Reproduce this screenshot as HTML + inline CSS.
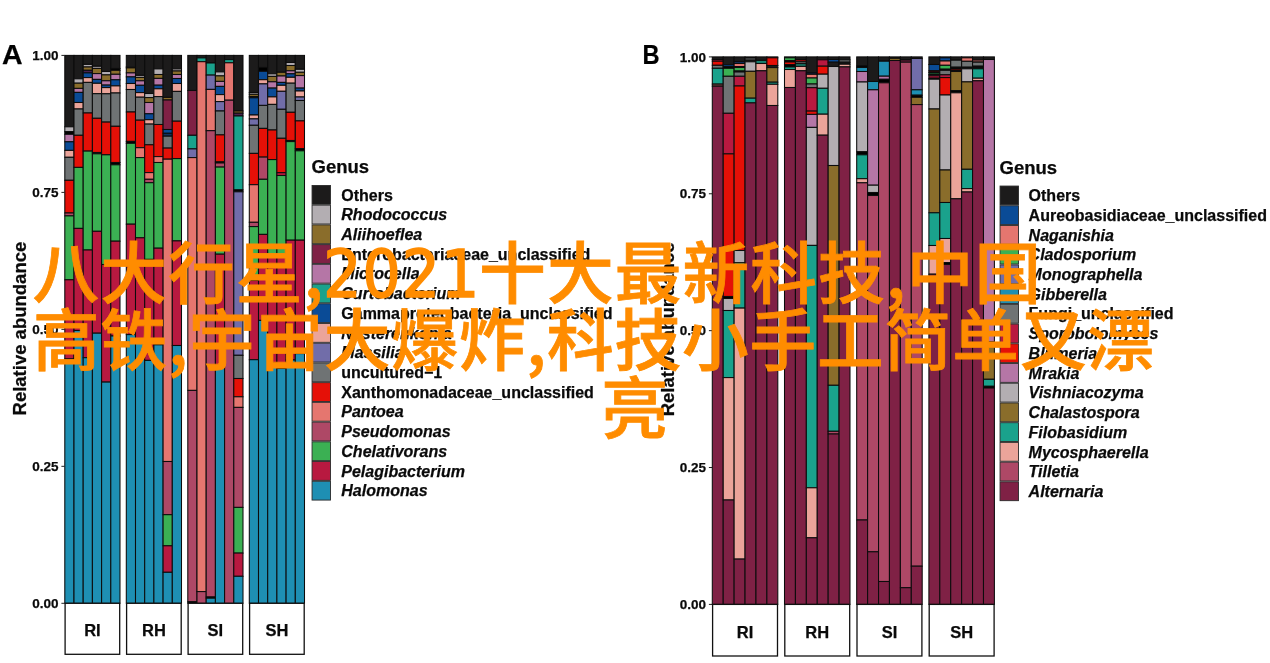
<!DOCTYPE html>
<html lang="zh-CN">
<head>
<meta charset="utf-8">
<title>八大行星,2021十大最新科技,中国高铁,宇宙大爆炸,科技小手工简单又漂亮</title>
<style>
html,body{margin:0;padding:0;background:#fff;}
body{width:1270px;height:663px;position:relative;overflow:hidden;font-family:"Liberation Sans","Noto Sans CJK SC",sans-serif;}
.fig{position:absolute;left:0;top:0;width:1270px;height:663px;filter:blur(0.4px);}
.cap{position:absolute;left:0;top:0;width:1270px;height:663px;color:#ff8c00;font-family:"Noto Sans CJK SC","Liberation Sans",sans-serif;font-weight:500;font-size:66.7px;line-height:68px;-webkit-text-stroke:0.8px #ff8c00;white-space:nowrap;}
.cap span{position:absolute;display:block;}
.cap .dg{display:inline-block;width:154.6px;text-align:center;font-weight:400;font-family:"DejaVu Sans Condensed","Noto Sans CJK SC","Liberation Sans",sans-serif;letter-spacing:1.1px;position:relative;top:-1px;left:-1.4px;-webkit-text-stroke:1.6px #ff8c00;}
</style>
</head>
<body>
<div class="fig">
<svg width="1270" height="663" viewBox="0 0 1270 663" style="position:absolute;left:0;top:0" font-family="'Liberation Sans', sans-serif" fill="#0a0a0a">
<rect x="0" y="0" width="1270" height="663" fill="#fff"/>
<style>text{stroke:#0a0a0a;stroke-width:0.25px;stroke-linejoin:round}</style>
<text x="2" y="64.2" font-size="28.5" font-weight="bold" fill="#000">A</text>
<text transform="translate(642.6,63.8) scale(0.83,1)" font-size="28.5" font-weight="bold" fill="#000">B</text>
<text transform="translate(26.2,328.6) rotate(-90)" text-anchor="middle" font-size="18.5" font-weight="bold">Relative abundance</text>
<text transform="translate(674.2,329.4) rotate(-90)" text-anchor="middle" font-size="18.5" font-weight="bold">Relative abundance</text>
<line x1="61.40" y1="55.40" x2="64.60" y2="55.40" stroke="#222" stroke-width="1"/>
<text x="58.60" y="60.10" text-anchor="end" font-size="13.5" font-weight="bold">1.00</text>
<line x1="61.40" y1="192.38" x2="64.60" y2="192.38" stroke="#222" stroke-width="1"/>
<text x="58.60" y="197.07" text-anchor="end" font-size="13.5" font-weight="bold">0.75</text>
<line x1="61.40" y1="329.35" x2="64.60" y2="329.35" stroke="#222" stroke-width="1"/>
<text x="58.60" y="334.05" text-anchor="end" font-size="13.5" font-weight="bold">0.50</text>
<line x1="61.40" y1="466.32" x2="64.60" y2="466.32" stroke="#222" stroke-width="1"/>
<text x="58.60" y="471.02" text-anchor="end" font-size="13.5" font-weight="bold">0.25</text>
<line x1="61.40" y1="603.30" x2="64.60" y2="603.30" stroke="#222" stroke-width="1"/>
<text x="58.60" y="608.00" text-anchor="end" font-size="13.5" font-weight="bold">0.00</text>
<line x1="708.90" y1="56.90" x2="712.10" y2="56.90" stroke="#222" stroke-width="1"/>
<text x="706.10" y="61.60" text-anchor="end" font-size="13.5" font-weight="bold">1.00</text>
<line x1="708.90" y1="193.78" x2="712.10" y2="193.78" stroke="#222" stroke-width="1"/>
<text x="706.10" y="198.47" text-anchor="end" font-size="13.5" font-weight="bold">0.75</text>
<line x1="708.90" y1="330.65" x2="712.10" y2="330.65" stroke="#222" stroke-width="1"/>
<text x="706.10" y="335.35" text-anchor="end" font-size="13.5" font-weight="bold">0.50</text>
<line x1="708.90" y1="467.52" x2="712.10" y2="467.52" stroke="#222" stroke-width="1"/>
<text x="706.10" y="472.22" text-anchor="end" font-size="13.5" font-weight="bold">0.25</text>
<line x1="708.90" y1="604.40" x2="712.10" y2="604.40" stroke="#222" stroke-width="1"/>
<text x="706.10" y="609.10" text-anchor="end" font-size="13.5" font-weight="bold">0.00</text>
<g stroke="#0c0c0c" stroke-width="1.05">
<rect x="64.80" y="55.40" width="9.20" height="71.40" fill="#1c1b1b"/>
<rect x="64.80" y="126.80" width="9.20" height="4.90" fill="#b3aeb2"/>
<rect x="64.80" y="131.70" width="9.20" height="2.60" fill="#000000"/>
<rect x="64.80" y="134.30" width="9.20" height="7.50" fill="#b576a6"/>
<rect x="64.80" y="141.80" width="9.20" height="8.60" fill="#0a4b96"/>
<rect x="64.80" y="150.40" width="9.20" height="6.90" fill="#eba49a"/>
<rect x="64.80" y="157.30" width="9.20" height="23.00" fill="#6f7374"/>
<rect x="64.80" y="180.30" width="9.20" height="32.70" fill="#e51007"/>
<rect x="64.80" y="213.00" width="9.20" height="2.90" fill="#ae4866"/>
<rect x="64.80" y="215.90" width="9.20" height="63.90" fill="#3bb053"/>
<rect x="64.80" y="279.80" width="9.20" height="79.20" fill="#b81940"/>
<rect x="64.80" y="359.00" width="9.20" height="244.30" fill="#1e8fb3"/>
<rect x="74.00" y="55.40" width="9.20" height="23.40" fill="#1c1b1b"/>
<rect x="74.00" y="78.80" width="9.20" height="4.40" fill="#b3aeb2"/>
<rect x="74.00" y="83.20" width="9.20" height="5.20" fill="#8a6d2b"/>
<rect x="74.00" y="88.40" width="9.20" height="4.00" fill="#b576a6"/>
<rect x="74.00" y="92.40" width="9.20" height="10.10" fill="#0a4b96"/>
<rect x="74.00" y="102.50" width="9.20" height="6.50" fill="#eba49a"/>
<rect x="74.00" y="109.00" width="9.20" height="26.30" fill="#6f7374"/>
<rect x="74.00" y="135.30" width="9.20" height="32.10" fill="#e51007"/>
<rect x="74.00" y="167.40" width="9.20" height="61.00" fill="#3bb053"/>
<rect x="74.00" y="228.40" width="9.20" height="102.10" fill="#b81940"/>
<rect x="74.00" y="330.50" width="9.20" height="272.80" fill="#1e8fb3"/>
<rect x="83.20" y="55.40" width="9.20" height="9.00" fill="#1c1b1b"/>
<rect x="83.20" y="64.40" width="9.20" height="2.60" fill="#b3aeb2"/>
<rect x="83.20" y="67.00" width="9.20" height="3.30" fill="#8a6d2b"/>
<rect x="83.20" y="70.30" width="9.20" height="2.60" fill="#4a2050"/>
<rect x="83.20" y="72.90" width="9.20" height="4.70" fill="#0a4b96"/>
<rect x="83.20" y="77.60" width="9.20" height="4.80" fill="#eba49a"/>
<rect x="83.20" y="82.40" width="9.20" height="30.60" fill="#6f7374"/>
<rect x="83.20" y="113.00" width="9.20" height="38.10" fill="#e51007"/>
<rect x="83.20" y="151.10" width="9.20" height="98.90" fill="#3bb053"/>
<rect x="83.20" y="250.00" width="9.20" height="107.70" fill="#b81940"/>
<rect x="83.20" y="357.70" width="9.20" height="245.60" fill="#1e8fb3"/>
<rect x="92.40" y="55.40" width="9.20" height="10.90" fill="#1c1b1b"/>
<rect x="92.40" y="66.30" width="9.20" height="2.10" fill="#b3aeb2"/>
<rect x="92.40" y="68.40" width="9.20" height="5.20" fill="#8a6d2b"/>
<rect x="92.40" y="73.60" width="9.20" height="5.80" fill="#b576a6"/>
<rect x="92.40" y="79.40" width="9.20" height="3.90" fill="#0a4b96"/>
<rect x="92.40" y="83.30" width="9.20" height="10.40" fill="#eba49a"/>
<rect x="92.40" y="93.70" width="9.20" height="24.60" fill="#6f7374"/>
<rect x="92.40" y="118.30" width="9.20" height="34.20" fill="#e51007"/>
<rect x="92.40" y="152.50" width="9.20" height="1.30" fill="#000000"/>
<rect x="92.40" y="153.80" width="9.20" height="77.50" fill="#3bb053"/>
<rect x="92.40" y="231.30" width="9.20" height="101.90" fill="#b81940"/>
<rect x="92.40" y="333.20" width="9.20" height="270.10" fill="#1e8fb3"/>
<rect x="101.60" y="55.40" width="9.20" height="16.10" fill="#1c1b1b"/>
<rect x="101.60" y="71.50" width="9.20" height="3.40" fill="#b3aeb2"/>
<rect x="101.60" y="74.90" width="9.20" height="5.90" fill="#8a6d2b"/>
<rect x="101.60" y="80.80" width="9.20" height="4.30" fill="#b576a6"/>
<rect x="101.60" y="85.10" width="9.20" height="2.50" fill="#0a4b96"/>
<rect x="101.60" y="87.60" width="9.20" height="6.20" fill="#eba49a"/>
<rect x="101.60" y="93.80" width="9.20" height="28.30" fill="#6f7374"/>
<rect x="101.60" y="122.10" width="9.20" height="32.70" fill="#e51007"/>
<rect x="101.60" y="154.80" width="9.20" height="109.70" fill="#3bb053"/>
<rect x="101.60" y="264.50" width="9.20" height="117.60" fill="#b81940"/>
<rect x="101.60" y="382.10" width="9.20" height="221.20" fill="#1e8fb3"/>
<rect x="110.80" y="55.40" width="9.20" height="13.10" fill="#1c1b1b"/>
<rect x="110.80" y="68.50" width="9.20" height="1.80" fill="#000000"/>
<rect x="110.80" y="70.30" width="9.20" height="4.00" fill="#8a6d2b"/>
<rect x="110.80" y="74.30" width="9.20" height="5.50" fill="#b576a6"/>
<rect x="110.80" y="79.80" width="9.20" height="6.10" fill="#0a4b96"/>
<rect x="110.80" y="85.90" width="9.20" height="7.10" fill="#eba49a"/>
<rect x="110.80" y="93.00" width="9.20" height="33.30" fill="#6f7374"/>
<rect x="110.80" y="126.30" width="9.20" height="36.20" fill="#e51007"/>
<rect x="110.80" y="162.50" width="9.20" height="2.30" fill="#000000"/>
<rect x="110.80" y="164.80" width="9.20" height="76.40" fill="#3bb053"/>
<rect x="110.80" y="241.20" width="9.20" height="94.80" fill="#b81940"/>
<rect x="110.80" y="336.00" width="9.20" height="267.30" fill="#1e8fb3"/>
<rect x="126.30" y="55.40" width="9.20" height="11.50" fill="#1c1b1b"/>
<rect x="126.30" y="66.90" width="9.20" height="1.00" fill="#b3aeb2"/>
<rect x="126.30" y="67.90" width="9.20" height="5.00" fill="#8a6d2b"/>
<rect x="126.30" y="72.90" width="9.20" height="4.00" fill="#b576a6"/>
<rect x="126.30" y="76.90" width="9.20" height="6.60" fill="#0a4b96"/>
<rect x="126.30" y="83.50" width="9.20" height="6.00" fill="#eba49a"/>
<rect x="126.30" y="89.50" width="9.20" height="22.50" fill="#6f7374"/>
<rect x="126.30" y="112.00" width="9.20" height="29.40" fill="#e51007"/>
<rect x="126.30" y="141.40" width="9.20" height="1.90" fill="#000000"/>
<rect x="126.30" y="143.30" width="9.20" height="80.90" fill="#3bb053"/>
<rect x="126.30" y="224.20" width="9.20" height="110.40" fill="#b81940"/>
<rect x="126.30" y="334.60" width="9.20" height="268.70" fill="#1e8fb3"/>
<rect x="135.50" y="55.40" width="9.20" height="20.00" fill="#1c1b1b"/>
<rect x="135.50" y="75.40" width="9.20" height="2.00" fill="#b3aeb2"/>
<rect x="135.50" y="77.40" width="9.20" height="3.40" fill="#8a6d2b"/>
<rect x="135.50" y="80.80" width="9.20" height="4.50" fill="#b576a6"/>
<rect x="135.50" y="85.30" width="9.20" height="7.30" fill="#0a4b96"/>
<rect x="135.50" y="92.60" width="9.20" height="4.60" fill="#eba49a"/>
<rect x="135.50" y="97.20" width="9.20" height="23.00" fill="#6f7374"/>
<rect x="135.50" y="120.20" width="9.20" height="27.50" fill="#e51007"/>
<rect x="135.50" y="147.70" width="9.20" height="9.90" fill="#e5766f"/>
<rect x="135.50" y="157.60" width="9.20" height="80.20" fill="#3bb053"/>
<rect x="135.50" y="237.80" width="9.20" height="103.20" fill="#b81940"/>
<rect x="135.50" y="341.00" width="9.20" height="262.30" fill="#1e8fb3"/>
<rect x="144.70" y="55.40" width="9.20" height="38.10" fill="#1c1b1b"/>
<rect x="144.70" y="93.50" width="9.20" height="4.10" fill="#b3aeb2"/>
<rect x="144.70" y="97.60" width="9.20" height="4.90" fill="#8a6d2b"/>
<rect x="144.70" y="102.50" width="9.20" height="11.30" fill="#b576a6"/>
<rect x="144.70" y="113.80" width="9.20" height="5.90" fill="#0a4b96"/>
<rect x="144.70" y="119.70" width="9.20" height="4.40" fill="#eba49a"/>
<rect x="144.70" y="124.10" width="9.20" height="20.70" fill="#6f7374"/>
<rect x="144.70" y="144.80" width="9.20" height="27.80" fill="#e51007"/>
<rect x="144.70" y="172.60" width="9.20" height="6.70" fill="#e5766f"/>
<rect x="144.70" y="179.30" width="9.20" height="3.40" fill="#ae4866"/>
<rect x="144.70" y="182.70" width="9.20" height="76.70" fill="#3bb053"/>
<rect x="144.70" y="259.40" width="9.20" height="101.00" fill="#b81940"/>
<rect x="144.70" y="360.40" width="9.20" height="242.90" fill="#1e8fb3"/>
<rect x="153.90" y="55.40" width="9.20" height="13.50" fill="#1c1b1b"/>
<rect x="153.90" y="68.90" width="9.20" height="5.60" fill="#b3aeb2"/>
<rect x="153.90" y="74.50" width="9.20" height="3.90" fill="#8a6d2b"/>
<rect x="153.90" y="78.40" width="9.20" height="6.80" fill="#b576a6"/>
<rect x="153.90" y="85.20" width="9.20" height="3.60" fill="#0a4b96"/>
<rect x="153.90" y="88.80" width="9.20" height="7.80" fill="#eba49a"/>
<rect x="153.90" y="96.60" width="9.20" height="27.90" fill="#6f7374"/>
<rect x="153.90" y="124.50" width="9.20" height="32.10" fill="#e51007"/>
<rect x="153.90" y="156.60" width="9.20" height="5.90" fill="#e5766f"/>
<rect x="153.90" y="162.50" width="9.20" height="85.70" fill="#3bb053"/>
<rect x="153.90" y="248.20" width="9.20" height="96.60" fill="#b81940"/>
<rect x="153.90" y="344.80" width="9.20" height="258.50" fill="#1e8fb3"/>
<rect x="163.10" y="55.40" width="9.20" height="42.00" fill="#1c1b1b"/>
<rect x="163.10" y="97.40" width="9.20" height="2.60" fill="#8a6d2b"/>
<rect x="163.10" y="100.00" width="9.20" height="29.50" fill="#7f2145"/>
<rect x="163.10" y="129.50" width="9.20" height="3.80" fill="#0a4b96"/>
<rect x="163.10" y="133.30" width="9.20" height="2.90" fill="#12305e"/>
<rect x="163.10" y="136.20" width="9.20" height="11.90" fill="#6f7374"/>
<rect x="163.10" y="148.10" width="9.20" height="11.10" fill="#e51007"/>
<rect x="163.10" y="159.20" width="9.20" height="302.30" fill="#e5766f"/>
<rect x="163.10" y="461.50" width="9.20" height="53.20" fill="#ae4866"/>
<rect x="163.10" y="514.70" width="9.20" height="31.10" fill="#3bb053"/>
<rect x="163.10" y="545.80" width="9.20" height="26.50" fill="#b81940"/>
<rect x="163.10" y="572.30" width="9.20" height="31.00" fill="#1e8fb3"/>
<rect x="172.30" y="55.40" width="9.20" height="13.50" fill="#1c1b1b"/>
<rect x="172.30" y="68.90" width="9.20" height="2.10" fill="#b3aeb2"/>
<rect x="172.30" y="71.00" width="9.20" height="3.50" fill="#8a6d2b"/>
<rect x="172.30" y="74.50" width="9.20" height="4.00" fill="#b576a6"/>
<rect x="172.30" y="78.50" width="9.20" height="5.00" fill="#0a4b96"/>
<rect x="172.30" y="83.50" width="9.20" height="7.90" fill="#eba49a"/>
<rect x="172.30" y="91.40" width="9.20" height="29.80" fill="#6f7374"/>
<rect x="172.30" y="121.20" width="9.20" height="37.40" fill="#e51007"/>
<rect x="172.30" y="158.60" width="9.20" height="82.30" fill="#3bb053"/>
<rect x="172.30" y="240.90" width="9.20" height="104.60" fill="#b81940"/>
<rect x="172.30" y="345.50" width="9.20" height="257.80" fill="#1e8fb3"/>
<rect x="187.80" y="55.40" width="9.20" height="35.10" fill="#1c1b1b"/>
<rect x="187.80" y="90.50" width="9.20" height="44.80" fill="#7f2145"/>
<rect x="187.80" y="135.30" width="9.20" height="13.60" fill="#1aa28c"/>
<rect x="187.80" y="148.90" width="9.20" height="8.70" fill="#716da9"/>
<rect x="187.80" y="157.60" width="9.20" height="232.80" fill="#e5766f"/>
<rect x="187.80" y="390.40" width="9.20" height="211.40" fill="#ae4866"/>
<rect x="187.80" y="601.80" width="9.20" height="1.50" fill="#000000"/>
<rect x="197.00" y="55.40" width="9.20" height="2.50" fill="#1c1b1b"/>
<rect x="197.00" y="57.90" width="9.20" height="3.80" fill="#1aa28c"/>
<rect x="197.00" y="61.70" width="9.20" height="529.90" fill="#e5766f"/>
<rect x="197.00" y="591.60" width="9.20" height="11.70" fill="#ae4866"/>
<rect x="206.20" y="55.40" width="9.20" height="7.60" fill="#1c1b1b"/>
<rect x="206.20" y="63.00" width="9.20" height="12.10" fill="#1aa28c"/>
<rect x="206.20" y="75.10" width="9.20" height="14.30" fill="#716da9"/>
<rect x="206.20" y="89.40" width="9.20" height="41.30" fill="#e5766f"/>
<rect x="206.20" y="130.70" width="9.20" height="466.30" fill="#ae4866"/>
<rect x="206.20" y="597.00" width="9.20" height="1.20" fill="#000000"/>
<rect x="206.20" y="598.20" width="9.20" height="5.10" fill="#1e8fb3"/>
<rect x="215.40" y="55.40" width="9.20" height="16.50" fill="#1c1b1b"/>
<rect x="215.40" y="71.90" width="9.20" height="4.00" fill="#b3aeb2"/>
<rect x="215.40" y="75.90" width="9.20" height="5.50" fill="#8a6d2b"/>
<rect x="215.40" y="81.40" width="9.20" height="5.00" fill="#b576a6"/>
<rect x="215.40" y="86.40" width="9.20" height="8.20" fill="#0a4b96"/>
<rect x="215.40" y="94.60" width="9.20" height="7.00" fill="#eba49a"/>
<rect x="215.40" y="101.60" width="9.20" height="9.40" fill="#716da9"/>
<rect x="215.40" y="111.00" width="9.20" height="23.90" fill="#6f7374"/>
<rect x="215.40" y="134.90" width="9.20" height="27.00" fill="#e51007"/>
<rect x="215.40" y="161.90" width="9.20" height="1.10" fill="#000000"/>
<rect x="215.40" y="163.00" width="9.20" height="4.10" fill="#ae4866"/>
<rect x="215.40" y="167.10" width="9.20" height="87.10" fill="#3bb053"/>
<rect x="215.40" y="254.20" width="9.20" height="111.80" fill="#b81940"/>
<rect x="215.40" y="366.00" width="9.20" height="237.30" fill="#1e8fb3"/>
<rect x="224.60" y="55.40" width="9.20" height="4.20" fill="#1c1b1b"/>
<rect x="224.60" y="59.60" width="9.20" height="3.20" fill="#1aa28c"/>
<rect x="224.60" y="62.80" width="9.20" height="37.40" fill="#e5766f"/>
<rect x="224.60" y="100.20" width="9.20" height="503.10" fill="#ae4866"/>
<rect x="233.80" y="55.40" width="9.20" height="55.60" fill="#1c1b1b"/>
<rect x="233.80" y="111.00" width="9.20" height="2.20" fill="#8a6d2b"/>
<rect x="233.80" y="113.20" width="9.20" height="2.80" fill="#4a2050"/>
<rect x="233.80" y="116.00" width="9.20" height="73.90" fill="#1aa28c"/>
<rect x="233.80" y="189.90" width="9.20" height="1.90" fill="#000000"/>
<rect x="233.80" y="191.80" width="9.20" height="163.50" fill="#716da9"/>
<rect x="233.80" y="355.30" width="9.20" height="23.20" fill="#6f7374"/>
<rect x="233.80" y="378.50" width="9.20" height="18.30" fill="#e51007"/>
<rect x="233.80" y="396.80" width="9.20" height="10.60" fill="#e5766f"/>
<rect x="233.80" y="407.40" width="9.20" height="100.00" fill="#ae4866"/>
<rect x="233.80" y="507.40" width="9.20" height="45.70" fill="#3bb053"/>
<rect x="233.80" y="553.10" width="9.20" height="23.20" fill="#b81940"/>
<rect x="233.80" y="576.30" width="9.20" height="27.00" fill="#1e8fb3"/>
<rect x="249.30" y="55.40" width="9.20" height="37.10" fill="#1c1b1b"/>
<rect x="249.30" y="92.50" width="9.20" height="1.80" fill="#b3aeb2"/>
<rect x="249.30" y="94.30" width="9.20" height="2.20" fill="#8a6d2b"/>
<rect x="249.30" y="96.50" width="9.20" height="1.30" fill="#000000"/>
<rect x="249.30" y="97.80" width="9.20" height="17.20" fill="#0a4b96"/>
<rect x="249.30" y="115.00" width="9.20" height="3.90" fill="#eba49a"/>
<rect x="249.30" y="118.90" width="9.20" height="6.40" fill="#716da9"/>
<rect x="249.30" y="125.30" width="9.20" height="28.10" fill="#6f7374"/>
<rect x="249.30" y="153.40" width="9.20" height="31.30" fill="#e51007"/>
<rect x="249.30" y="184.70" width="9.20" height="37.60" fill="#e5766f"/>
<rect x="249.30" y="222.30" width="9.20" height="4.30" fill="#ae4866"/>
<rect x="249.30" y="226.60" width="9.20" height="53.90" fill="#3bb053"/>
<rect x="249.30" y="280.50" width="9.20" height="79.20" fill="#b81940"/>
<rect x="249.30" y="359.70" width="9.20" height="243.60" fill="#1e8fb3"/>
<rect x="258.50" y="55.40" width="9.20" height="12.10" fill="#1c1b1b"/>
<rect x="258.50" y="67.50" width="9.20" height="3.80" fill="#000000"/>
<rect x="258.50" y="71.30" width="9.20" height="8.40" fill="#0a4b96"/>
<rect x="258.50" y="79.70" width="9.20" height="4.20" fill="#eba49a"/>
<rect x="258.50" y="83.90" width="9.20" height="21.50" fill="#716da9"/>
<rect x="258.50" y="105.40" width="9.20" height="23.00" fill="#6f7374"/>
<rect x="258.50" y="128.40" width="9.20" height="28.70" fill="#e51007"/>
<rect x="258.50" y="157.10" width="9.20" height="22.20" fill="#ae4866"/>
<rect x="258.50" y="179.30" width="9.20" height="55.10" fill="#3bb053"/>
<rect x="258.50" y="234.40" width="9.20" height="86.00" fill="#b81940"/>
<rect x="258.50" y="320.40" width="9.20" height="282.90" fill="#1e8fb3"/>
<rect x="267.70" y="55.40" width="9.20" height="18.40" fill="#1c1b1b"/>
<rect x="267.70" y="73.80" width="9.20" height="2.60" fill="#b3aeb2"/>
<rect x="267.70" y="76.40" width="9.20" height="5.40" fill="#8a6d2b"/>
<rect x="267.70" y="81.80" width="9.20" height="6.30" fill="#b576a6"/>
<rect x="267.70" y="88.10" width="9.20" height="8.80" fill="#0a4b96"/>
<rect x="267.70" y="96.90" width="9.20" height="7.50" fill="#eba49a"/>
<rect x="267.70" y="104.40" width="9.20" height="25.60" fill="#6f7374"/>
<rect x="267.70" y="130.00" width="9.20" height="29.60" fill="#e51007"/>
<rect x="267.70" y="159.60" width="9.20" height="96.40" fill="#3bb053"/>
<rect x="267.70" y="256.00" width="9.20" height="107.00" fill="#b81940"/>
<rect x="267.70" y="363.00" width="9.20" height="240.30" fill="#1e8fb3"/>
<rect x="276.90" y="55.40" width="9.20" height="16.90" fill="#1c1b1b"/>
<rect x="276.90" y="72.30" width="9.20" height="3.70" fill="#8a6d2b"/>
<rect x="276.90" y="76.00" width="9.20" height="6.40" fill="#b576a6"/>
<rect x="276.90" y="82.40" width="9.20" height="2.90" fill="#0a4b96"/>
<rect x="276.90" y="85.30" width="9.20" height="6.00" fill="#eba49a"/>
<rect x="276.90" y="91.30" width="9.20" height="18.00" fill="#716da9"/>
<rect x="276.90" y="109.30" width="9.20" height="29.00" fill="#6f7374"/>
<rect x="276.90" y="138.30" width="9.20" height="34.40" fill="#e51007"/>
<rect x="276.90" y="172.70" width="9.20" height="2.80" fill="#b81940"/>
<rect x="276.90" y="175.50" width="9.20" height="81.50" fill="#3bb053"/>
<rect x="276.90" y="257.00" width="9.20" height="111.50" fill="#b81940"/>
<rect x="276.90" y="368.50" width="9.20" height="234.80" fill="#1e8fb3"/>
<rect x="286.10" y="55.40" width="9.20" height="7.10" fill="#1c1b1b"/>
<rect x="286.10" y="62.50" width="9.20" height="3.00" fill="#b3aeb2"/>
<rect x="286.10" y="65.50" width="9.20" height="5.30" fill="#8a6d2b"/>
<rect x="286.10" y="70.80" width="9.20" height="3.00" fill="#b576a6"/>
<rect x="286.10" y="73.80" width="9.20" height="3.50" fill="#0a4b96"/>
<rect x="286.10" y="77.30" width="9.20" height="5.90" fill="#eba49a"/>
<rect x="286.10" y="83.20" width="9.20" height="29.10" fill="#6f7374"/>
<rect x="286.10" y="112.30" width="9.20" height="28.20" fill="#e51007"/>
<rect x="286.10" y="140.50" width="9.20" height="1.10" fill="#000000"/>
<rect x="286.10" y="141.60" width="9.20" height="98.60" fill="#3bb053"/>
<rect x="286.10" y="240.20" width="9.20" height="119.80" fill="#b81940"/>
<rect x="286.10" y="360.00" width="9.20" height="243.30" fill="#1e8fb3"/>
<rect x="295.30" y="55.40" width="9.20" height="13.90" fill="#1c1b1b"/>
<rect x="295.30" y="69.30" width="9.20" height="3.00" fill="#b3aeb2"/>
<rect x="295.30" y="72.30" width="9.20" height="3.30" fill="#8a6d2b"/>
<rect x="295.30" y="75.60" width="9.20" height="12.50" fill="#b576a6"/>
<rect x="295.30" y="88.10" width="9.20" height="2.90" fill="#0a4b96"/>
<rect x="295.30" y="91.00" width="9.20" height="6.00" fill="#eba49a"/>
<rect x="295.30" y="97.00" width="9.20" height="3.50" fill="#716da9"/>
<rect x="295.30" y="100.50" width="9.20" height="20.40" fill="#6f7374"/>
<rect x="295.30" y="120.90" width="9.20" height="27.70" fill="#e51007"/>
<rect x="295.30" y="148.60" width="9.20" height="2.20" fill="#000000"/>
<rect x="295.30" y="150.80" width="9.20" height="89.40" fill="#3bb053"/>
<rect x="295.30" y="240.20" width="9.20" height="113.40" fill="#b81940"/>
<rect x="295.30" y="353.60" width="9.20" height="249.70" fill="#1e8fb3"/>
<rect x="712.30" y="56.90" width="10.92" height="2.60" fill="#1c1b1b"/>
<rect x="712.30" y="59.50" width="10.92" height="1.70" fill="#b81940"/>
<rect x="712.30" y="61.20" width="10.92" height="4.10" fill="#e51007"/>
<rect x="712.30" y="65.30" width="10.92" height="3.00" fill="#6f7374"/>
<rect x="712.30" y="68.30" width="10.92" height="15.80" fill="#1aa28c"/>
<rect x="712.30" y="84.10" width="10.92" height="2.10" fill="#8a4a4a"/>
<rect x="712.30" y="86.20" width="10.92" height="518.20" fill="#7f2145"/>
<rect x="723.22" y="56.90" width="10.92" height="7.90" fill="#1c1b1b"/>
<rect x="723.22" y="64.80" width="10.92" height="1.90" fill="#0a4b96"/>
<rect x="723.22" y="66.70" width="10.92" height="1.60" fill="#000000"/>
<rect x="723.22" y="68.30" width="10.92" height="8.00" fill="#3bb053"/>
<rect x="723.22" y="76.30" width="10.92" height="37.00" fill="#6f7374"/>
<rect x="723.22" y="113.30" width="10.92" height="40.60" fill="#b81940"/>
<rect x="723.22" y="153.90" width="10.92" height="142.60" fill="#e51007"/>
<rect x="723.22" y="296.50" width="10.92" height="2.00" fill="#000000"/>
<rect x="723.22" y="298.50" width="10.92" height="12.00" fill="#b3aeb2"/>
<rect x="723.22" y="310.50" width="10.92" height="67.10" fill="#1aa28c"/>
<rect x="723.22" y="377.60" width="10.92" height="122.40" fill="#eba49a"/>
<rect x="723.22" y="500.00" width="10.92" height="104.40" fill="#7f2145"/>
<rect x="734.13" y="56.90" width="10.92" height="4.60" fill="#1c1b1b"/>
<rect x="734.13" y="61.50" width="10.92" height="2.00" fill="#12305e"/>
<rect x="734.13" y="63.50" width="10.92" height="3.10" fill="#e5766f"/>
<rect x="734.13" y="66.60" width="10.92" height="0.90" fill="#000000"/>
<rect x="734.13" y="67.50" width="10.92" height="3.50" fill="#3bb053"/>
<rect x="734.13" y="71.00" width="10.92" height="1.00" fill="#000000"/>
<rect x="734.13" y="72.00" width="10.92" height="4.30" fill="#6f7374"/>
<rect x="734.13" y="76.30" width="10.92" height="9.70" fill="#b81940"/>
<rect x="734.13" y="86.00" width="10.92" height="164.50" fill="#e51007"/>
<rect x="734.13" y="250.50" width="10.92" height="12.30" fill="#b3aeb2"/>
<rect x="734.13" y="262.80" width="10.92" height="45.30" fill="#1aa28c"/>
<rect x="734.13" y="308.10" width="10.92" height="251.00" fill="#eba49a"/>
<rect x="734.13" y="559.10" width="10.92" height="45.30" fill="#7f2145"/>
<rect x="745.05" y="56.90" width="10.92" height="1.10" fill="#000000"/>
<rect x="745.05" y="58.00" width="10.92" height="2.20" fill="#6f7374"/>
<rect x="745.05" y="60.20" width="10.92" height="1.60" fill="#1c1b1b"/>
<rect x="745.05" y="61.80" width="10.92" height="9.50" fill="#b3aeb2"/>
<rect x="745.05" y="71.30" width="10.92" height="26.90" fill="#8a6d2b"/>
<rect x="745.05" y="98.20" width="10.92" height="4.70" fill="#1aa28c"/>
<rect x="745.05" y="102.90" width="10.92" height="501.50" fill="#7f2145"/>
<rect x="755.97" y="56.90" width="10.92" height="3.50" fill="#1c1b1b"/>
<rect x="755.97" y="60.40" width="10.92" height="3.10" fill="#17806f"/>
<rect x="755.97" y="63.50" width="10.92" height="7.30" fill="#eba49a"/>
<rect x="755.97" y="70.80" width="10.92" height="533.60" fill="#7f2145"/>
<rect x="766.88" y="56.90" width="10.92" height="0.90" fill="#000000"/>
<rect x="766.88" y="57.80" width="10.92" height="7.70" fill="#e51007"/>
<rect x="766.88" y="65.50" width="10.92" height="2.10" fill="#1c1b1b"/>
<rect x="766.88" y="67.60" width="10.92" height="14.60" fill="#8a6d2b"/>
<rect x="766.88" y="82.20" width="10.92" height="2.10" fill="#1aa28c"/>
<rect x="766.88" y="84.30" width="10.92" height="21.20" fill="#eba49a"/>
<rect x="766.88" y="105.50" width="10.92" height="498.90" fill="#7f2145"/>
<rect x="784.50" y="56.90" width="10.92" height="0.90" fill="#000000"/>
<rect x="784.50" y="57.80" width="10.92" height="2.70" fill="#3bb053"/>
<rect x="784.50" y="60.50" width="10.92" height="1.50" fill="#000000"/>
<rect x="784.50" y="62.00" width="10.92" height="2.70" fill="#e51007"/>
<rect x="784.50" y="64.70" width="10.92" height="2.30" fill="#000000"/>
<rect x="784.50" y="67.00" width="10.92" height="2.50" fill="#1aa28c"/>
<rect x="784.50" y="69.50" width="10.92" height="18.00" fill="#eba49a"/>
<rect x="784.50" y="87.50" width="10.92" height="516.90" fill="#7f2145"/>
<rect x="795.42" y="56.90" width="10.92" height="2.60" fill="#1c1b1b"/>
<rect x="795.42" y="59.50" width="10.92" height="2.30" fill="#8b0a0a"/>
<rect x="795.42" y="61.80" width="10.92" height="1.90" fill="#6f7374"/>
<rect x="795.42" y="63.70" width="10.92" height="2.70" fill="#17806f"/>
<rect x="795.42" y="66.40" width="10.92" height="4.40" fill="#eba49a"/>
<rect x="795.42" y="70.80" width="10.92" height="533.60" fill="#7f2145"/>
<rect x="806.33" y="56.90" width="10.92" height="15.90" fill="#1c1b1b"/>
<rect x="806.33" y="72.80" width="10.92" height="1.50" fill="#12305e"/>
<rect x="806.33" y="74.30" width="10.92" height="3.70" fill="#e5766f"/>
<rect x="806.33" y="78.00" width="10.92" height="6.00" fill="#3bb053"/>
<rect x="806.33" y="84.00" width="10.92" height="3.70" fill="#6f7374"/>
<rect x="806.33" y="87.70" width="10.92" height="23.40" fill="#b81940"/>
<rect x="806.33" y="111.10" width="10.92" height="3.30" fill="#e51007"/>
<rect x="806.33" y="114.40" width="10.92" height="13.00" fill="#b576a6"/>
<rect x="806.33" y="127.40" width="10.92" height="118.00" fill="#b3aeb2"/>
<rect x="806.33" y="245.40" width="10.92" height="242.40" fill="#1aa28c"/>
<rect x="806.33" y="487.80" width="10.92" height="50.00" fill="#eba49a"/>
<rect x="806.33" y="537.80" width="10.92" height="66.60" fill="#7f2145"/>
<rect x="817.25" y="56.90" width="10.92" height="2.90" fill="#1c1b1b"/>
<rect x="817.25" y="59.80" width="10.92" height="6.40" fill="#b81940"/>
<rect x="817.25" y="66.20" width="10.92" height="8.00" fill="#e51007"/>
<rect x="817.25" y="74.20" width="10.92" height="14.10" fill="#b3aeb2"/>
<rect x="817.25" y="88.30" width="10.92" height="25.90" fill="#1aa28c"/>
<rect x="817.25" y="114.20" width="10.92" height="21.00" fill="#eba49a"/>
<rect x="817.25" y="135.20" width="10.92" height="469.20" fill="#7f2145"/>
<rect x="828.17" y="56.90" width="10.92" height="2.60" fill="#1c1b1b"/>
<rect x="828.17" y="59.50" width="10.92" height="2.70" fill="#0a4b96"/>
<rect x="828.17" y="62.20" width="10.92" height="4.30" fill="#1c1b1b"/>
<rect x="828.17" y="66.50" width="10.92" height="99.00" fill="#b3aeb2"/>
<rect x="828.17" y="165.50" width="10.92" height="219.80" fill="#8a6d2b"/>
<rect x="828.17" y="385.30" width="10.92" height="46.00" fill="#1aa28c"/>
<rect x="828.17" y="431.30" width="10.92" height="2.70" fill="#ae4866"/>
<rect x="828.17" y="434.00" width="10.92" height="170.40" fill="#7f2145"/>
<rect x="839.08" y="56.90" width="10.92" height="2.90" fill="#1c1b1b"/>
<rect x="839.08" y="59.80" width="10.92" height="2.40" fill="#6f7374"/>
<rect x="839.08" y="62.20" width="10.92" height="2.00" fill="#1c1b1b"/>
<rect x="839.08" y="64.20" width="10.92" height="2.70" fill="#eba49a"/>
<rect x="839.08" y="66.90" width="10.92" height="537.50" fill="#7f2145"/>
<rect x="856.70" y="56.90" width="10.92" height="9.10" fill="#1c1b1b"/>
<rect x="856.70" y="66.00" width="10.92" height="1.50" fill="#000000"/>
<rect x="856.70" y="67.50" width="10.92" height="4.00" fill="#1e8fb3"/>
<rect x="856.70" y="71.50" width="10.92" height="10.50" fill="#b576a6"/>
<rect x="856.70" y="82.00" width="10.92" height="69.80" fill="#b3aeb2"/>
<rect x="856.70" y="151.80" width="10.92" height="3.00" fill="#000000"/>
<rect x="856.70" y="154.80" width="10.92" height="23.90" fill="#1aa28c"/>
<rect x="856.70" y="178.70" width="10.92" height="4.10" fill="#eba49a"/>
<rect x="856.70" y="182.80" width="10.92" height="337.20" fill="#ae4866"/>
<rect x="856.70" y="520.00" width="10.92" height="84.40" fill="#7f2145"/>
<rect x="867.62" y="56.90" width="10.92" height="24.60" fill="#1c1b1b"/>
<rect x="867.62" y="81.50" width="10.92" height="8.30" fill="#1e8fb3"/>
<rect x="867.62" y="89.80" width="10.92" height="95.40" fill="#b576a6"/>
<rect x="867.62" y="185.20" width="10.92" height="7.30" fill="#b3aeb2"/>
<rect x="867.62" y="192.50" width="10.92" height="3.00" fill="#000000"/>
<rect x="867.62" y="195.50" width="10.92" height="356.30" fill="#ae4866"/>
<rect x="867.62" y="551.80" width="10.92" height="52.60" fill="#7f2145"/>
<rect x="878.53" y="56.90" width="10.92" height="4.30" fill="#1c1b1b"/>
<rect x="878.53" y="61.20" width="10.92" height="15.00" fill="#1e8fb3"/>
<rect x="878.53" y="76.20" width="10.92" height="3.10" fill="#b576a6"/>
<rect x="878.53" y="79.30" width="10.92" height="3.50" fill="#000000"/>
<rect x="878.53" y="82.80" width="10.92" height="498.70" fill="#ae4866"/>
<rect x="878.53" y="581.50" width="10.92" height="22.90" fill="#7f2145"/>
<rect x="889.45" y="56.90" width="10.92" height="1.40" fill="#1c1b1b"/>
<rect x="889.45" y="58.30" width="10.92" height="2.20" fill="#8a6d2b"/>
<rect x="889.45" y="60.50" width="10.92" height="543.90" fill="#7f2145"/>
<rect x="900.37" y="56.90" width="10.92" height="3.10" fill="#1c1b1b"/>
<rect x="900.37" y="60.00" width="10.92" height="2.20" fill="#7f2145"/>
<rect x="900.37" y="62.20" width="10.92" height="525.50" fill="#ae4866"/>
<rect x="900.37" y="587.70" width="10.92" height="16.70" fill="#7f2145"/>
<rect x="911.28" y="56.90" width="10.92" height="1.60" fill="#1c1b1b"/>
<rect x="911.28" y="58.50" width="10.92" height="31.30" fill="#716da9"/>
<rect x="911.28" y="89.80" width="10.92" height="5.40" fill="#1e8fb3"/>
<rect x="911.28" y="95.20" width="10.92" height="2.10" fill="#000000"/>
<rect x="911.28" y="97.30" width="10.92" height="7.30" fill="#8a6d2b"/>
<rect x="911.28" y="104.60" width="10.92" height="461.60" fill="#ae4866"/>
<rect x="911.28" y="566.20" width="10.92" height="38.20" fill="#7f2145"/>
<rect x="928.90" y="56.90" width="10.92" height="7.60" fill="#1c1b1b"/>
<rect x="928.90" y="64.50" width="10.92" height="6.30" fill="#0a4b96"/>
<rect x="928.90" y="70.80" width="10.92" height="1.70" fill="#3a0a0a"/>
<rect x="928.90" y="72.50" width="10.92" height="2.00" fill="#1a4a2a"/>
<rect x="928.90" y="74.50" width="10.92" height="1.30" fill="#6f7374"/>
<rect x="928.90" y="75.80" width="10.92" height="2.40" fill="#b81940"/>
<rect x="928.90" y="78.20" width="10.92" height="1.00" fill="#000000"/>
<rect x="928.90" y="79.20" width="10.92" height="29.80" fill="#b3aeb2"/>
<rect x="928.90" y="109.00" width="10.92" height="103.80" fill="#8a6d2b"/>
<rect x="928.90" y="212.80" width="10.92" height="32.70" fill="#1aa28c"/>
<rect x="928.90" y="245.50" width="10.92" height="28.70" fill="#eba49a"/>
<rect x="928.90" y="274.20" width="10.92" height="330.20" fill="#7f2145"/>
<rect x="939.82" y="56.90" width="10.92" height="0.90" fill="#1c1b1b"/>
<rect x="939.82" y="57.80" width="10.92" height="3.20" fill="#0a4b96"/>
<rect x="939.82" y="61.00" width="10.92" height="4.30" fill="#e5766f"/>
<rect x="939.82" y="65.30" width="10.92" height="3.90" fill="#3bb053"/>
<rect x="939.82" y="69.20" width="10.92" height="1.10" fill="#000000"/>
<rect x="939.82" y="70.30" width="10.92" height="4.50" fill="#6f7374"/>
<rect x="939.82" y="74.80" width="10.92" height="2.80" fill="#b81940"/>
<rect x="939.82" y="77.60" width="10.92" height="17.40" fill="#e51007"/>
<rect x="939.82" y="95.00" width="10.92" height="75.00" fill="#b3aeb2"/>
<rect x="939.82" y="170.00" width="10.92" height="32.50" fill="#8a6d2b"/>
<rect x="939.82" y="202.50" width="10.92" height="36.00" fill="#1aa28c"/>
<rect x="939.82" y="238.50" width="10.92" height="24.10" fill="#eba49a"/>
<rect x="939.82" y="262.60" width="10.92" height="1.90" fill="#000000"/>
<rect x="939.82" y="264.50" width="10.92" height="339.90" fill="#7f2145"/>
<rect x="950.73" y="56.90" width="10.92" height="3.30" fill="#1c1b1b"/>
<rect x="950.73" y="60.20" width="10.92" height="7.00" fill="#6f7374"/>
<rect x="950.73" y="67.20" width="10.92" height="1.80" fill="#000000"/>
<rect x="950.73" y="69.00" width="10.92" height="1.50" fill="#8b0a0a"/>
<rect x="950.73" y="70.50" width="10.92" height="1.00" fill="#000000"/>
<rect x="950.73" y="71.50" width="10.92" height="19.20" fill="#8a6d2b"/>
<rect x="950.73" y="90.70" width="10.92" height="2.10" fill="#000000"/>
<rect x="950.73" y="92.80" width="10.92" height="106.00" fill="#eba49a"/>
<rect x="950.73" y="198.80" width="10.92" height="405.60" fill="#7f2145"/>
<rect x="961.65" y="56.90" width="10.92" height="0.90" fill="#1c1b1b"/>
<rect x="961.65" y="57.80" width="10.92" height="3.50" fill="#e5766f"/>
<rect x="961.65" y="61.30" width="10.92" height="5.90" fill="#6f7374"/>
<rect x="961.65" y="67.20" width="10.92" height="1.60" fill="#000000"/>
<rect x="961.65" y="68.80" width="10.92" height="13.10" fill="#b3aeb2"/>
<rect x="961.65" y="81.90" width="10.92" height="87.40" fill="#8a6d2b"/>
<rect x="961.65" y="169.30" width="10.92" height="19.30" fill="#1aa28c"/>
<rect x="961.65" y="188.60" width="10.92" height="3.40" fill="#eba49a"/>
<rect x="961.65" y="192.00" width="10.92" height="412.40" fill="#7f2145"/>
<rect x="972.57" y="56.90" width="10.92" height="2.90" fill="#1c1b1b"/>
<rect x="972.57" y="59.80" width="10.92" height="2.40" fill="#8a4a4a"/>
<rect x="972.57" y="62.20" width="10.92" height="4.00" fill="#6f7374"/>
<rect x="972.57" y="66.20" width="10.92" height="0.80" fill="#000000"/>
<rect x="972.57" y="67.00" width="10.92" height="1.00" fill="#6f7374"/>
<rect x="972.57" y="68.00" width="10.92" height="0.80" fill="#000000"/>
<rect x="972.57" y="68.80" width="10.92" height="9.40" fill="#1aa28c"/>
<rect x="972.57" y="78.20" width="10.92" height="2.60" fill="#eba49a"/>
<rect x="972.57" y="80.80" width="10.92" height="523.60" fill="#7f2145"/>
<rect x="983.48" y="56.90" width="10.92" height="2.60" fill="#1c1b1b"/>
<rect x="983.48" y="59.50" width="10.92" height="282.50" fill="#b576a6"/>
<rect x="983.48" y="342.00" width="10.92" height="37.30" fill="#8a6d2b"/>
<rect x="983.48" y="379.30" width="10.92" height="7.00" fill="#1aa28c"/>
<rect x="983.48" y="386.30" width="10.92" height="1.70" fill="#000000"/>
<rect x="983.48" y="388.00" width="10.92" height="216.40" fill="#7f2145"/>
</g>
<rect x="65.10" y="603.30" width="54.60" height="51.00" fill="#fff" stroke="#111" stroke-width="1.3"/>
<text x="92.40" y="636.20" text-anchor="middle" font-size="16.5" font-weight="bold">RI</text>
<rect x="126.60" y="603.30" width="54.60" height="51.00" fill="#fff" stroke="#111" stroke-width="1.3"/>
<text x="153.90" y="636.20" text-anchor="middle" font-size="16.5" font-weight="bold">RH</text>
<rect x="188.10" y="603.30" width="54.60" height="51.00" fill="#fff" stroke="#111" stroke-width="1.3"/>
<text x="215.40" y="636.20" text-anchor="middle" font-size="16.5" font-weight="bold">SI</text>
<rect x="249.60" y="603.30" width="54.60" height="51.00" fill="#fff" stroke="#111" stroke-width="1.3"/>
<text x="276.90" y="636.20" text-anchor="middle" font-size="16.5" font-weight="bold">SH</text>
<rect x="712.60" y="604.40" width="64.90" height="51.60" fill="#fff" stroke="#111" stroke-width="1.3"/>
<text x="745.05" y="637.60" text-anchor="middle" font-size="16.5" font-weight="bold">RI</text>
<rect x="784.80" y="604.40" width="64.90" height="51.60" fill="#fff" stroke="#111" stroke-width="1.3"/>
<text x="817.25" y="637.60" text-anchor="middle" font-size="16.5" font-weight="bold">RH</text>
<rect x="857.00" y="604.40" width="64.90" height="51.60" fill="#fff" stroke="#111" stroke-width="1.3"/>
<text x="889.45" y="637.60" text-anchor="middle" font-size="16.5" font-weight="bold">SI</text>
<rect x="929.20" y="604.40" width="64.90" height="51.60" fill="#fff" stroke="#111" stroke-width="1.3"/>
<text x="961.65" y="637.60" text-anchor="middle" font-size="16.5" font-weight="bold">SH</text>
<text x="311.60" y="173.30" font-size="18.5" font-weight="bold">Genus</text>
<rect x="312.05" y="185.45" width="18.40" height="18.82" fill="#1c1b1b" stroke="#2a2a2a" stroke-width="0.9"/>
<text x="341.30" y="200.56" font-size="16" font-weight="bold">Others</text>
<rect x="312.05" y="205.17" width="18.40" height="18.82" fill="#b3aeb2" stroke="#2a2a2a" stroke-width="0.9"/>
<text x="341.30" y="220.28" font-size="16" font-weight="bold" font-style="italic">Rhodococcus</text>
<rect x="312.05" y="224.89" width="18.40" height="18.82" fill="#8a6d2b" stroke="#2a2a2a" stroke-width="0.9"/>
<text x="341.30" y="240.00" font-size="16" font-weight="bold" font-style="italic">Aliihoeflea</text>
<rect x="312.05" y="244.61" width="18.40" height="18.82" fill="#7f2145" stroke="#2a2a2a" stroke-width="0.9"/>
<text x="341.30" y="259.72" font-size="16" font-weight="bold">Enterobacteriaceae_unclassified</text>
<rect x="312.05" y="264.33" width="18.40" height="18.82" fill="#b576a6" stroke="#2a2a2a" stroke-width="0.9"/>
<text x="341.30" y="279.44" font-size="16" font-weight="bold" font-style="italic">Microcella</text>
<rect x="312.05" y="284.05" width="18.40" height="18.82" fill="#1aa28c" stroke="#2a2a2a" stroke-width="0.9"/>
<text x="341.30" y="299.16" font-size="16" font-weight="bold" font-style="italic">Curtobacterium</text>
<rect x="312.05" y="303.77" width="18.40" height="18.82" fill="#0a4b96" stroke="#2a2a2a" stroke-width="0.9"/>
<text x="341.30" y="318.88" font-size="16" font-weight="bold">Gammaproteobacteria_unclassified</text>
<rect x="312.05" y="323.49" width="18.40" height="18.82" fill="#eba49a" stroke="#2a2a2a" stroke-width="0.9"/>
<text x="341.30" y="338.60" font-size="16" font-weight="bold" font-style="italic">Nesterenkonia</text>
<rect x="312.05" y="343.21" width="18.40" height="18.82" fill="#716da9" stroke="#2a2a2a" stroke-width="0.9"/>
<text x="341.30" y="358.32" font-size="16" font-weight="bold" font-style="italic">Massilia</text>
<rect x="312.05" y="362.93" width="18.40" height="18.82" fill="#6f7374" stroke="#2a2a2a" stroke-width="0.9"/>
<text x="341.30" y="378.04" font-size="16" font-weight="bold">uncultured−1</text>
<rect x="312.05" y="382.65" width="18.40" height="18.82" fill="#e51007" stroke="#2a2a2a" stroke-width="0.9"/>
<text x="341.30" y="397.76" font-size="16" font-weight="bold">Xanthomonadaceae_unclassified</text>
<rect x="312.05" y="402.37" width="18.40" height="18.82" fill="#e5766f" stroke="#2a2a2a" stroke-width="0.9"/>
<text x="341.30" y="417.48" font-size="16" font-weight="bold" font-style="italic">Pantoea</text>
<rect x="312.05" y="422.09" width="18.40" height="18.82" fill="#ae4866" stroke="#2a2a2a" stroke-width="0.9"/>
<text x="341.30" y="437.20" font-size="16" font-weight="bold" font-style="italic">Pseudomonas</text>
<rect x="312.05" y="441.81" width="18.40" height="18.82" fill="#3bb053" stroke="#2a2a2a" stroke-width="0.9"/>
<text x="341.30" y="456.92" font-size="16" font-weight="bold" font-style="italic">Chelativorans</text>
<rect x="312.05" y="461.53" width="18.40" height="18.82" fill="#b81940" stroke="#2a2a2a" stroke-width="0.9"/>
<text x="341.30" y="476.64" font-size="16" font-weight="bold" font-style="italic">Pelagibacterium</text>
<rect x="312.05" y="481.25" width="18.40" height="18.82" fill="#1e8fb3" stroke="#2a2a2a" stroke-width="0.9"/>
<text x="341.30" y="496.36" font-size="16" font-weight="bold" font-style="italic">Halomonas</text>
<text x="999.60" y="174.00" font-size="18.5" font-weight="bold">Genus</text>
<rect x="1000.05" y="186.05" width="18.40" height="18.82" fill="#1c1b1b" stroke="#2a2a2a" stroke-width="0.9"/>
<text x="1028.60" y="201.16" font-size="16" font-weight="bold">Others</text>
<rect x="1000.05" y="205.77" width="18.40" height="18.82" fill="#0a4b96" stroke="#2a2a2a" stroke-width="0.9"/>
<text x="1028.60" y="220.88" font-size="16" font-weight="bold">Aureobasidiaceae_unclassified</text>
<rect x="1000.05" y="225.49" width="18.40" height="18.82" fill="#e5766f" stroke="#2a2a2a" stroke-width="0.9"/>
<text x="1028.60" y="240.60" font-size="16" font-weight="bold" font-style="italic">Naganishia</text>
<rect x="1000.05" y="245.21" width="18.40" height="18.82" fill="#3bb053" stroke="#2a2a2a" stroke-width="0.9"/>
<text x="1028.60" y="260.32" font-size="16" font-weight="bold" font-style="italic">Cladosporium</text>
<rect x="1000.05" y="264.93" width="18.40" height="18.82" fill="#716da9" stroke="#2a2a2a" stroke-width="0.9"/>
<text x="1028.60" y="280.04" font-size="16" font-weight="bold" font-style="italic">Monographella</text>
<rect x="1000.05" y="284.65" width="18.40" height="18.82" fill="#1e8fb3" stroke="#2a2a2a" stroke-width="0.9"/>
<text x="1028.60" y="299.76" font-size="16" font-weight="bold" font-style="italic">Gibberella</text>
<rect x="1000.05" y="304.37" width="18.40" height="18.82" fill="#6f7374" stroke="#2a2a2a" stroke-width="0.9"/>
<text x="1028.60" y="319.48" font-size="16" font-weight="bold">Fungi_unclassified</text>
<rect x="1000.05" y="324.09" width="18.40" height="18.82" fill="#b81940" stroke="#2a2a2a" stroke-width="0.9"/>
<text x="1028.60" y="339.20" font-size="16" font-weight="bold" font-style="italic">Sporobolomyces</text>
<rect x="1000.05" y="343.81" width="18.40" height="18.82" fill="#e51007" stroke="#2a2a2a" stroke-width="0.9"/>
<text x="1028.60" y="358.92" font-size="16" font-weight="bold" font-style="italic">Blumeria</text>
<rect x="1000.05" y="363.53" width="18.40" height="18.82" fill="#b576a6" stroke="#2a2a2a" stroke-width="0.9"/>
<text x="1028.60" y="378.64" font-size="16" font-weight="bold" font-style="italic">Mrakia</text>
<rect x="1000.05" y="383.25" width="18.40" height="18.82" fill="#b3aeb2" stroke="#2a2a2a" stroke-width="0.9"/>
<text x="1028.60" y="398.36" font-size="16" font-weight="bold" font-style="italic">Vishniacozyma</text>
<rect x="1000.05" y="402.97" width="18.40" height="18.82" fill="#8a6d2b" stroke="#2a2a2a" stroke-width="0.9"/>
<text x="1028.60" y="418.08" font-size="16" font-weight="bold" font-style="italic">Chalastospora</text>
<rect x="1000.05" y="422.69" width="18.40" height="18.82" fill="#1aa28c" stroke="#2a2a2a" stroke-width="0.9"/>
<text x="1028.60" y="437.80" font-size="16" font-weight="bold" font-style="italic">Filobasidium</text>
<rect x="1000.05" y="442.41" width="18.40" height="18.82" fill="#eba49a" stroke="#2a2a2a" stroke-width="0.9"/>
<text x="1028.60" y="457.52" font-size="16" font-weight="bold" font-style="italic">Mycosphaerella</text>
<rect x="1000.05" y="462.13" width="18.40" height="18.82" fill="#ae4866" stroke="#2a2a2a" stroke-width="0.9"/>
<text x="1028.60" y="477.24" font-size="16" font-weight="bold" font-style="italic">Tilletia</text>
<rect x="1000.05" y="481.85" width="18.40" height="18.82" fill="#7f2145" stroke="#2a2a2a" stroke-width="0.9"/>
<text x="1028.60" y="496.96" font-size="16" font-weight="bold" font-style="italic">Alternaria</text>
</svg>
</div>
<div class="cap">
<span style="left:32.4px;top:234.6px;letter-spacing:1.1px">八大行星,<b class="dg">2021</b>十大最新科技,中国</span>
<span style="left:33px;top:301.6px;letter-spacing:0.83px">高铁,宇宙大爆炸,科技小手工简单又漂</span>
<span style="left:601.5px;top:369.6px">亮</span>
</div>
</body>
</html>
